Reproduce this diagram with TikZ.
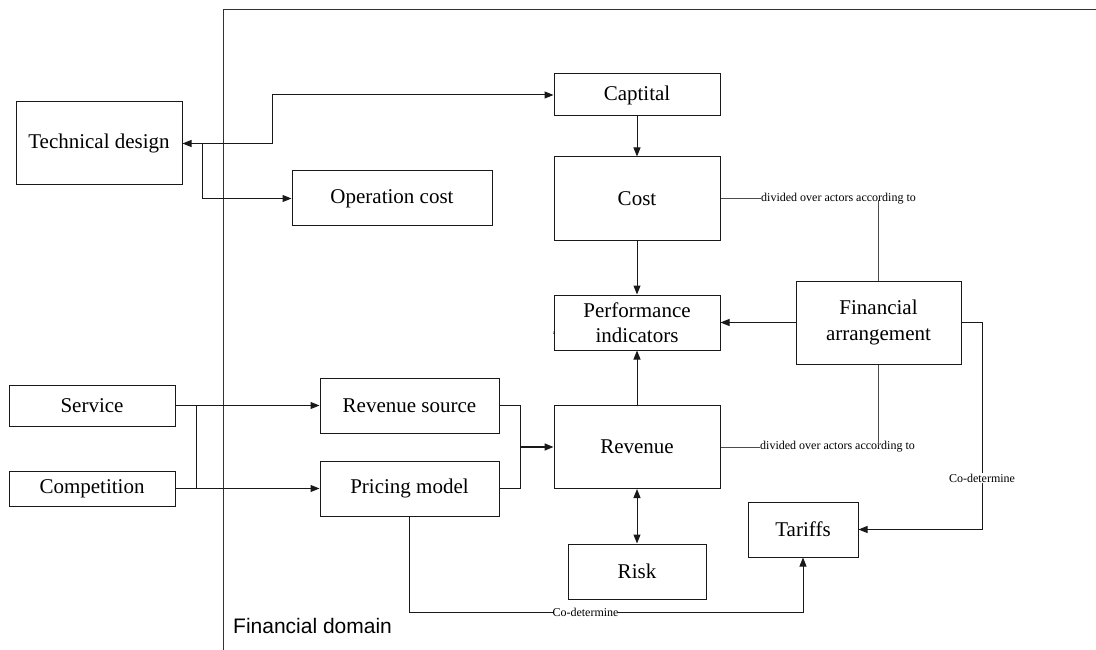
\documentclass[tikz,border=0pt]{standalone}
\usepackage{fontspec}
\setmainfont{Liberation Serif}
\newfontfamily\domainfont{Liberation Sans}
\usetikzlibrary{arrows.meta}
\begin{document}
\begin{tikzpicture}[x=1pt,y=-1pt,
  blk/.style={draw=black!90,line width=1pt,fill=white,inner sep=0pt,align=center,
    font=\fontsize{21}{25.5}\selectfont},
  conn/.style={draw=black!90,line width=1pt},
  arr/.style={conn,-{Triangle[length=9pt,width=7pt]}},
  darr/.style={conn,{Triangle[length=9pt,width=7pt]}-{Triangle[length=9pt,width=7pt]}},
  lbl/.style={font=\fontsize{12}{14}\selectfont,inner sep=0.5pt,fill=white}]
\useasboundingbox (0,0) rectangle (1096,650);

% domain boundary
\draw[conn,draw=black!80] (223,650) -- (223,10) -- (1096,10);
\node[font=\domainfont\fontsize{21}{25}\selectfont,anchor=west,inner sep=0pt] (dom) at (233,626) {Financial domain};

% blocks
\node[blk,minimum width=166pt,minimum height=83pt] (tech) at (99,143.5) {Technical design};
\node[blk,minimum width=200pt,minimum height=55pt] (opcost) at (392,198.5) {Operation cost};
\node[blk,minimum width=166pt,minimum height=42pt] (capital) at (637,95) {Captital};
\node[blk,minimum width=166pt,minimum height=83pt] (cost) at (637,198.5) {Cost};
\node[blk,minimum width=166pt,minimum height=55pt] (perf) at (637,322.5) {Performance\\indicators};
\node[blk,minimum width=165pt,minimum height=83pt] (fin) at (878.5,322.5) {Financial\\arrangement};
\node[blk,minimum width=166pt,minimum height=83pt] (rev) at (637,447) {Revenue};
\node[blk,minimum width=138pt,minimum height=55pt] (risk) at (637,571.5) {Risk};
\node[blk,minimum width=110pt,minimum height=55pt] (tariffs) at (803,529.5) {Tariffs};
\node[blk,minimum width=166pt,minimum height=41pt] (service) at (92,405.5) {Service};
\node[blk,minimum width=166pt,minimum height=35pt] (comp) at (92,488.5) {Competition};
\node[blk,minimum width=179pt,minimum height=55pt] (revsrc) at (409.5,405.5) {Revenue source};
\node[blk,minimum width=179pt,minimum height=55pt] (pricing) at (409.5,488.5) {Pricing model};

% small mark at the left edge of the indicators block
\node[font=\fontsize{5}{6}\selectfont,inner sep=0pt] (zmark) at (554,333) {z};

% technical design links
\coordinate (tdsplit) at (202,143.5);
\coordinate (tdbend) at (272,143.5);
\draw[darr] (tech.east) -- (tdbend) |- (capital.west);
\draw[arr] (tdsplit) |- (opcost.west);

% cost chain
\draw[arr] (capital) -- (cost);
\draw[arr] (cost) -- (perf);
\draw[arr] (rev) -- (perf);
\draw[arr] (fin.west) -- (perf.east);
\draw[darr] (rev) -- (risk);

% inputs
\coordinate (injoinA) at (196,405.5);
\coordinate (injoinB) at (196,488.5);
\draw[arr] (service.east) -- (revsrc.west);
\draw[arr] (comp.east) -- (pricing.west);
\draw[conn] (injoinA) -- (injoinB);

% revenue inputs merge
\coordinate (mergeA) at (520.5,405.5);
\coordinate (mergeB) at (520.5,488.5);
\coordinate (mergeM) at (520.5,447);
\draw[conn] (revsrc.east) -- (mergeA) -- (mergeB) -- (pricing.east);
\draw[arr,line width=1.5pt] (mergeM) -- (rev.west);

% division of cost and revenue
\node[lbl,anchor=west,inner sep=0pt] (div1) at (761,198.5) {divided over actors according to};
\node[lbl,anchor=west,inner sep=0pt] (div2) at (760,447) {divided over actors according to};
\draw[conn,draw=black!70] (cost.east) -- (div1.west);
\draw[conn,draw=black!70] (rev.east) -- (div2.west);
\draw[conn,draw=black!70] (fin.north) -- ([yshift=4pt]fin.north |- div1.south);
\draw[conn,draw=black!70] (fin.south) -- ([yshift=-4pt]fin.south |- div2.north);

% tariffs
\coordinate (fincorner) at (982,322.5);
\draw[arr] (fin.east) -- (fincorner) |- (tariffs.east);
\node[lbl,inner sep=1pt] (cod1) at (982,478) {Co-determine};
\coordinate (pmcorner) at (409.5,612);
\draw[arr] (pricing.south) -- (pmcorner) -| (tariffs.south);
\node[lbl,inner sep=0pt] (cod2) at (585.5,612) {Co-determine};
\end{tikzpicture}
\end{document}
